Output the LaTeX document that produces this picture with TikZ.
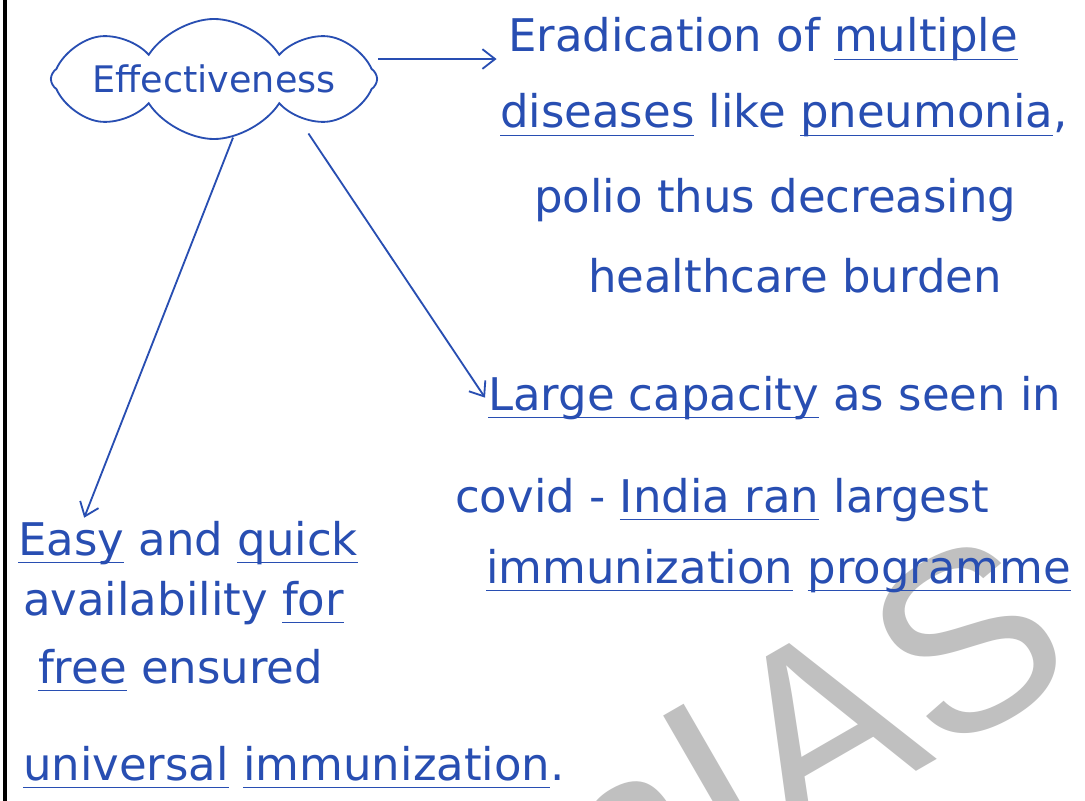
\documentclass[tikz,border=0pt]{standalone}
\usepackage{fontspec}
\setmainfont{DejaVu Sans}
\newfontfamily\markfont{Liberation Sans}
\usepackage{tikz}
\usetikzlibrary{shapes,arrows.meta,positioning,calc}
\usepackage{xcolor}
\definecolor{ink}{RGB}{40,78,178}
\definecolor{wmgray}{RGB}{192,192,192}
% hand drawn underline below a word
\newsavebox\uwordbox
\newcommand{\uword}[1]{\sbox\uwordbox{#1}\rlap{\rule[-6pt]{\wd\uwordbox}{1.2pt}}\usebox\uwordbox}

\begin{document}
\begin{tikzpicture}[x=0.025cm,y=-0.025cm,
    hand/.style={font=\fontsize{32}{38}\selectfont, text=ink, inner sep=2pt, anchor=base west},
    arr/.style={ink, line width=1.3pt, -{Straight Barb[length=9pt,width=14pt]}}]
    % sheet
    \useasboundingbox[fill=white] (0,0) rectangle (1085,801);
    % watermark
    \begin{scope}
        \clip (0,0) rectangle (1085,801);
        \node[font=\markfont\fontsize{180}{180}\selectfont, text=wmgray, rotate=30] (wm) at (803,736) {nIAS};
    \end{scope}
    \draw[line width=3pt] (5,0) -- (5,801);
    % central idea
    \node[cloud, cloud puffs=8, cloud puff arc=115, cloud ignores aspect, draw=ink, line width=1.3pt,
          inner sep=0pt, minimum width=7.0cm, minimum height=3.0cm, text=ink,
          font=\fontsize{26}{30}\selectfont] (eff) at (214,79) {Effectiveness};
    % eradication
    \node[hand] (erad1) at (505,52) {Eradication of \uword{multiple}};
    \node[hand] (erad2) at (497,128) {\uword{diseases} like \uword{pneumonia},};
    \node[hand] (erad3) at (531,212) {polio thus decreasing};
    \node[hand] (erad4) at (585,292) {healthcare burden};
    % capacity
    \node[hand] (large1) at (485,410) {\uword{Large capacity} as seen in};
    \node[hand] (large2) at (452,512) {covid - \uword{India ran} largest};
    \node[hand] (large3) at (483,583) {\uword{immunization} \uword{programme}};
    % availability
    \node[hand] (easy1) at (15,555) {\uword{Easy} and \uword{quick}};
    \node[hand] (easy2) at (20,615) {availability \uword{for}};
    \node[hand] (easy3) at (35,683) {\uword{free} ensured};
    \node[hand] (easy4) at (20,780) {\uword{universal} \uword{immunization}.};
    % links
    \draw[arr] ([yshift=-5pt]eff.east |- erad1.base west) -- ([xshift=-6pt,yshift=-5pt]erad1.base west);
    \draw[arr] ($(eff.center)!1.6!(eff.330)$) -- (large1.west);
    \draw[arr] (eff.288) -- ($(easy1.north west)!0.2!(easy1.north east)$);
\end{tikzpicture}
\end{document}
